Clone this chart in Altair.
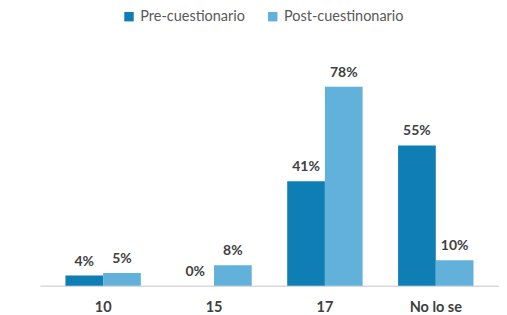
import altair as alt
import pandas as pd

categories = ["10", "15", "17", "No lo se"]
pre = [4, 0, 41, 55]
post = [5, 8, 78, 10]
series = ["Pre-cuestionario", "Post-cuestinonario"]

rows = []
for c, a, b in zip(categories, pre, post):
    rows.append({"cat": c, "serie": series[0], "val": a, "label": f"{a}%"})
    rows.append({"cat": c, "serie": series[1], "val": b, "label": f"{b}%"})
df = pd.DataFrame(rows)

FONT = "Lato"

x = alt.X("cat:N", sort=categories, title=None,
          scale=alt.Scale(paddingInner=0.32, paddingOuter=0.23),
          axis=alt.Axis(labelAngle=0, labelFontWeight="bold", labelFontSize=14.5,
                        labelColor="#404040", labelFont=FONT, ticks=False,
                        domainColor="#D9D9D9", domainWidth=1.5, labelPadding=15))
xo = alt.XOffset("serie:N", sort=series, scale=alt.Scale(paddingInner=0, paddingOuter=0))
y = alt.Y("val:Q", scale=alt.Scale(domain=[0, 90]), axis=None)

bars = alt.Chart(df).mark_bar().encode(
    x=x, xOffset=xo, y=y,
    color=alt.Color("serie:N", sort=series,
                    scale=alt.Scale(domain=series, range=["#0F7EB4", "#62B1DB"]),
                    legend=alt.Legend(title=None, orient="none", direction="horizontal",
                                      legendX=82, legendY=-47, symbolType="square",
                                      symbolSize=90, symbolStrokeWidth=0,
                                      labelFont=FONT, labelFontSize=14.5,
                                      labelColor="#595959", columnPadding=20,
                                      labelOffset=4)),
)
text = alt.Chart(df).mark_text(dy=-14, fontWeight="bold", fontSize=14,
                               color="#404040", font=FONT).encode(
    x=x, xOffset=xo, y=y, text="label:N")

chart = (bars + text).properties(
    width=460, height=230,
    autosize=alt.AutoSizeParams(type="none"),
    padding={"left": 32, "top": 48, "right": 0, "bottom": 28},
).configure_view(stroke=None)

chart.save("out.html", embed_options={"renderer": "svg", "actions": False})
